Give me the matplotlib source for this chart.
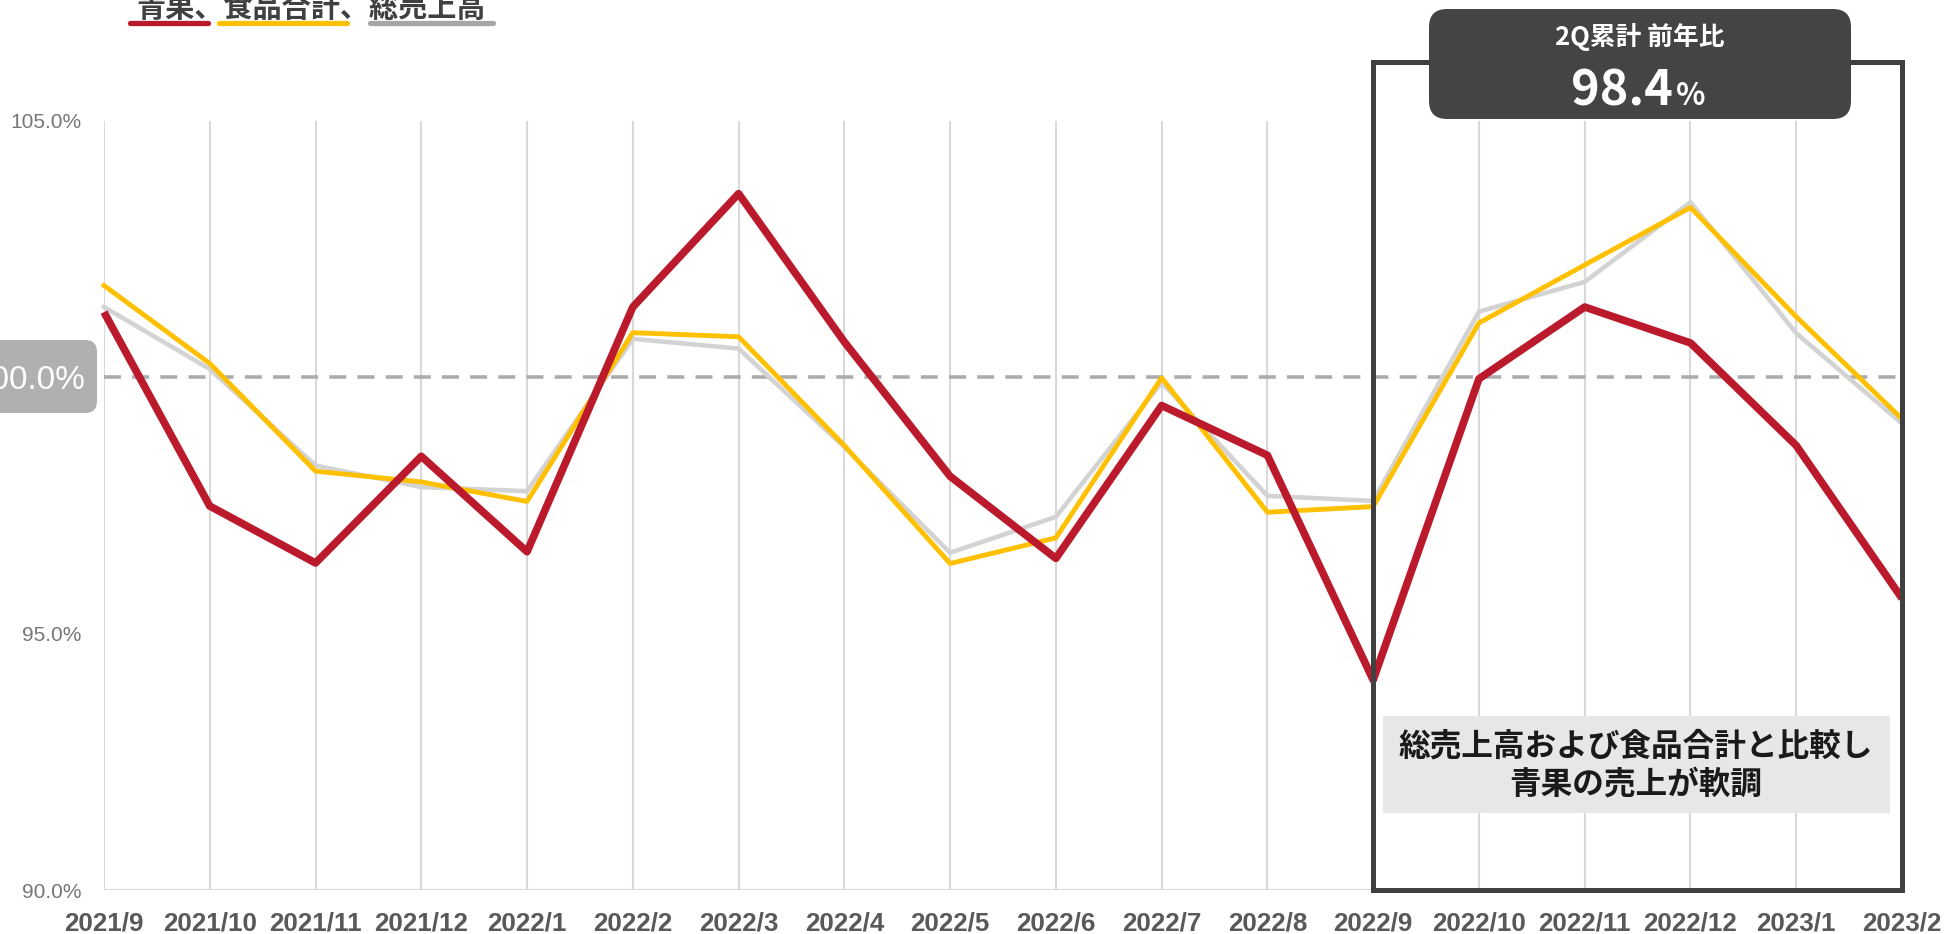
import matplotlib
matplotlib.use('Agg')
import matplotlib.pyplot as plt
from matplotlib.patches import FancyBboxPatch, Rectangle

# ---------------- data ----------------
months = ['2021/9', '2021/10', '2021/11', '2021/12', '2022/1', '2022/2', '2022/3',
          '2022/4', '2022/5', '2022/6', '2022/7', '2022/8', '2022/9', '2022/10',
          '2022/11', '2022/12', '2023/1', '2023/2']
seika = [101.27, 97.49, 96.38, 98.46, 96.60, 101.37, 103.58, 100.69, 98.07, 96.47,
         99.45, 98.48, 94.10, 99.97, 101.37, 100.67, 98.67, 95.69]
shokuhin = [101.79, 100.27, 98.17, 97.96, 97.58, 100.87, 100.79, 98.67, 96.37, 96.87,
            99.99, 97.37, 97.48, 101.06, 102.19, 103.31, 101.18, 99.19]
sou = [101.37, 100.16, 98.28, 97.86, 97.78, 100.75, 100.56, 98.64, 96.58, 97.28,
       99.90, 97.69, 97.59, 101.28, 101.86, 103.41, 100.86, 99.10]
yticks = [90, 95, 100, 105]
ytick_labels = ['90.0%', '95.0%', '100.0%', '105.0%']
legend_text = '青果、食品合計、総売上高'
q2_title = '2Q累計 前年比'
q2_value = '98.4'
q2_unit = '%'
note_lines = ['総売上高および食品合計と比較し', '青果の売上が軟調']
highlight_start = 12   # index of 2022/9
highlight_end = 17     # index of 2023/2

# ---------------- style ----------------
plt.rcParams['font.family'] = ['Liberation Sans', 'Noto Sans CJK JP', 'DejaVu Sans']
CJK = ['Noto Sans CJK JP', 'DejaVu Sans']
RED = '#bb1a2c'
YEL = '#ffc000'
GRY = '#d3d3d3'
GRID = '#d9d9d9'

W, H = 1946, 934
fig = plt.figure(figsize=(W / 100, H / 100), dpi=100)
fig.patch.set_facecolor('white')

ax_left, ax_right = 104, 1902
ax_top, ax_bottom = 120.8, 890.3
ax = fig.add_axes([ax_left / W, 1 - ax_bottom / H, (ax_right - ax_left) / W,
                   (ax_bottom - ax_top) / H])
x = list(range(len(months)))
ax.set_xlim(0, len(months) - 1)
ax.set_ylim(90, 105)
for s in ax.spines.values():
    s.set_visible(False)
ax.set_facecolor('none')

# grid
ax.vlines(x, 90, 105, color=GRID, lw=1.5, zorder=1)
ax.axhline(90, color=GRID, lw=1.5, zorder=1)
ax.axhline(100, color='#acacac', lw=2.6, dashes=(4.7, 3.1), zorder=2)

# ticks
ax.set_xticks(x, months)
ax.tick_params(axis='x', length=0, pad=15, labelsize=18.7, labelcolor='#595959')
for t in ax.get_xticklabels():
    t.set_fontweight('bold')
ax.set_yticks(yticks, [l if v != 100 else '' for v, l in zip(yticks, ytick_labels)])
ax.tick_params(axis='y', length=0, pad=16, labelsize=15, labelcolor='#767676')

# series
ax.plot(x, sou, color=GRY, lw=3.3, zorder=3, solid_joinstyle='round', clip_on=False)
ax.plot(x, shokuhin, color=YEL, lw=3.5, zorder=3.5, solid_joinstyle='round', clip_on=False)
ax.plot(x, seika, color=RED, lw=5.5, zorder=4, solid_joinstyle='round',
        solid_capstyle='butt', clip_on=False)

# highlight frame
frame_top = 100 + (377.3 - 62) / 51.3
ax.add_patch(Rectangle((highlight_start, 90), highlight_end - highlight_start,
                       frame_top - 90, fill=False, ec='#404040', lw=3.6,
                       clip_on=False, zorder=6))

# ---------------- overlay in pixel coords ----------------
ov = fig.add_axes([0, 0, 1, 1], zorder=10)
ov.set_xlim(0, W)
ov.set_ylim(H, 0)
ov.axis('off')

# legend-like title
ov.text(136, 18, legend_text, family=CJK, fontsize=21, fontweight='bold',
        color='#404040', ha='left', va='baseline')
for (x0, x1), c in zip([(130, 208), (219, 347), (370, 493)], [RED, YEL, '#a6a6a6']):
    ov.plot([x0, x1], [23.3, 23.3], color=c, lw=3.8, solid_capstyle='round')

# 100% label box
ov.add_patch(FancyBboxPatch((-30, 340), 127, 73,
                            boxstyle='round,pad=0,rounding_size=12',
                            fc='#b0b0b0', ec='none'))
ov.text(85, 377, ytick_labels[2], color='white', fontsize=24, ha='right',
        va='center_baseline')

# 2Q box
ov.add_patch(FancyBboxPatch((1429, 9), 422, 110,
                            boxstyle='round,pad=0,rounding_size=18',
                            fc='#444444', ec='none'))
ov.text(1640, 37, q2_title, family=CJK, color='white', fontsize=18.5,
        fontweight='bold', ha='center', va='center')
ov.text(1673, 105, q2_value, family=CJK, color='white', fontsize=35,
        fontweight='bold', ha='right', va='baseline')
ov.text(1676, 105, q2_unit, family=CJK, color='white', fontsize=22,
        fontweight='bold', ha='left', va='baseline')

# note box
ov.add_patch(FancyBboxPatch((1383, 716), 507, 97, boxstyle='square,pad=0',
                            fc='#e7e7e7', ec='none'))
ov.text(1636, 747, note_lines[0], family=CJK, color='#1a1a1a', fontsize=22.8,
        fontweight='bold', ha='center', va='center')
ov.text(1636, 785, note_lines[1], family=CJK, color='#1a1a1a', fontsize=22.8,
        fontweight='bold', ha='center', va='center')

fig.savefig('out.png', dpi=100)
